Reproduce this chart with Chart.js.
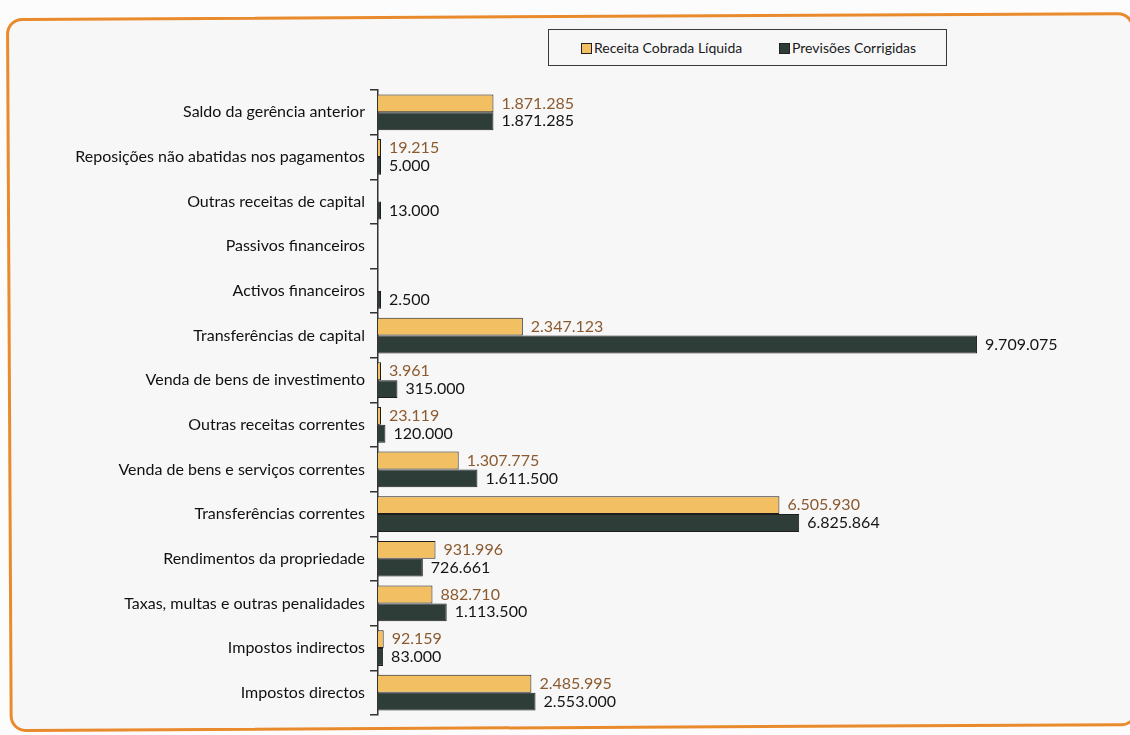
<!DOCTYPE html>
<html>
<head>
<meta charset="utf-8">
<script src="https://cdn.jsdelivr.net/npm/chart.js@4.4.1/dist/chart.umd.min.js"></script>
<style>
  html, body { margin: 0; padding: 0; background: #fcfcfc; }
  #wrap { position: relative; width: 1130px; height: 735px; overflow: hidden; }
  #frame {
    position: absolute; left: 6px; top: 18px; width: 1122px; height: 708px;
    border: 3px solid #e98a2c; border-radius: 16px; background: #f7f7f8;
    transform: rotate(-0.3deg); transform-origin: left top;
  }
  #legend {
    position: absolute; left: 548px; top: 29px; width: 399px; height: 37px;
    border: 1.5px solid #3a3a3a; box-sizing: border-box;
    font: 14px Lato, sans-serif; color: #1a1a1a;
  }
  #legend span.item { position: absolute; top: 9px; white-space: nowrap; }
  #legend i { display: inline-block; width: 9px; height: 9px; border: 1px solid #222; margin-right: 2px; vertical-align: -1px; }
  canvas { position: absolute; left: 0; top: 0; }
</style>
</head>
<body>
<div id="wrap">
  <div id="frame"></div>
  <div id="legend"></div>
  <canvas id="chart" width="1130" height="735"></canvas>
</div>
<script>
const categories = [
  'Saldo da gerência anterior',
  'Reposições não abatidas nos pagamentos',
  'Outras receitas de capital',
  'Passivos financeiros',
  'Activos financeiros',
  'Transferências de capital',
  'Venda de bens de investimento',
  'Outras receitas correntes',
  'Venda de bens e serviços correntes',
  'Transferências correntes',
  'Rendimentos da propriedade',
  'Taxas, multas e outras penalidades',
  'Impostos indirectos',
  'Impostos directos'
];
const receitaCobrada = [1871285, 19215, null, null, null, 2347123, 3961, 23119, 1307775, 6505930, 931996, 882710, 92159, 2485995];
const previsoesCorrigidas = [1871285, 5000, 13000, null, 2500, 9709075, 315000, 120000, 1611500, 6825864, 726661, 1113500, 83000, 2553000];
const seriesNames = ['Receita Cobrada Líquida', 'Previsões Corrigidas'];
const seriesColors = ['#f2c063', '#2f3d39'];
const labelColors = ['#8b5a2e', '#151515'];

const fmt = v => String(v).replace(/\B(?=(\d{3})+(?!\d))/g, '.');

const valueLabels = {
  id: 'valueLabels',
  afterDatasetsDraw(chart) {
    const ctx = chart.ctx;
    ctx.save();
    ctx.font = '16px Lato, sans-serif';
    ctx.textBaseline = 'middle';
    ctx.textAlign = 'left';
    chart.data.datasets.forEach((ds, i) => {
      const meta = chart.getDatasetMeta(i);
      ctx.fillStyle = labelColors[i];
      meta.data.forEach((el, j) => {
        const v = ds.data[j];
        if (v == null) return;
        ctx.fillText(fmt(v), el.x + 8, el.y);
      });
    });
    ctx.restore();
  }
};

// html legend
const legendEl = document.getElementById('legend');
const legendX = [32, 230];
seriesNames.forEach((name, i) => {
  const s = document.createElement('span');
  s.className = 'item';
  s.style.left = legendX[i] + 'px';
  s.innerHTML = '<i style="background:' + seriesColors[i] + '"></i>' + name;
  legendEl.appendChild(s);
});

new Chart(document.getElementById('chart').getContext('2d'), {
  type: 'bar',
  data: {
    labels: categories,
    datasets: [
      {
        label: seriesNames[0],
        data: receitaCobrada,
        backgroundColor: seriesColors[0],
        borderColor: '#1e1e1e',
        borderWidth: 1,
        minBarLength: 3
      },
      {
        label: seriesNames[1],
        data: previsoesCorrigidas,
        backgroundColor: seriesColors[1],
        borderColor: '#1e1e1e',
        borderWidth: 1,
        minBarLength: 3
      }
    ]
  },
  options: {
    indexAxis: 'y',
    responsive: false,
    animation: false,
    categoryPercentage: 0.8,
    barPercentage: 1,
    layout: { padding: { left: 0, right: 135, top: 90, bottom: 20 } },
    scales: {
      x: {
        display: false,
        min: 0,
        max: 10000000
      },
      y: {
        afterFit(scale) { scale.width = 378; },
        grid: {
          drawOnChartArea: false,
          drawTicks: true,
          tickLength: 8,
          offset: true,
          color: '#333333',
          lineWidth: 1.5
        },
        border: { display: true, color: '#333333', width: 1.5 },
        ticks: {
          color: '#111111',
          padding: 5,
          font: { family: 'Lato, sans-serif', size: 16 }
        }
      }
    },
    plugins: {
      legend: { display: false },
      tooltip: { enabled: false }
    }
  },
  plugins: [valueLabels]
});
</script>
</body>
</html>
